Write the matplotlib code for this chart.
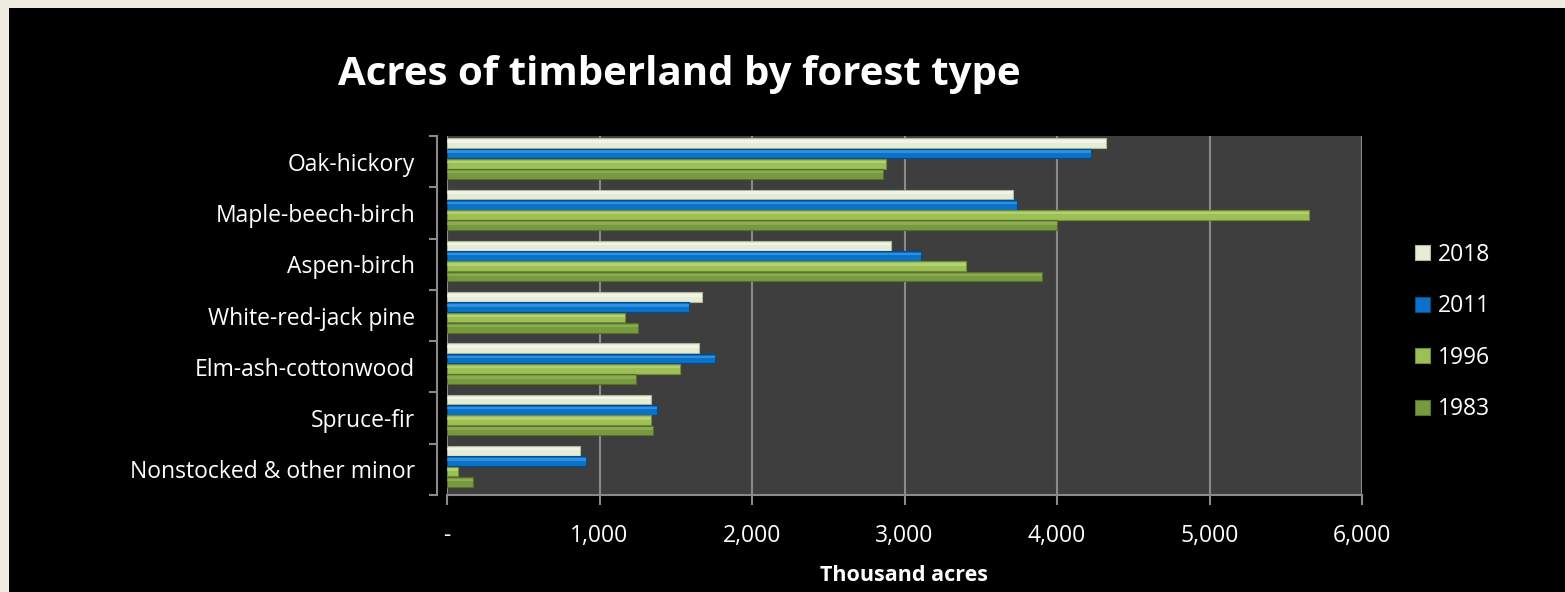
import numpy as np
import matplotlib.pyplot as plt
from matplotlib.patches import Rectangle
from matplotlib.ticker import FuncFormatter

plt.rcParams['font.family'] = ['Open Sans', 'DejaVu Sans']

forest_types = ['Oak-hickory', 'Maple-beech-birch', 'Aspen-birch', 'White-red-jack pine',
                'Elm-ash-cottonwood', 'Spruce-fir', 'Nonstocked & other minor']
years = ['2018', '2011', '1996', '1983']
acres_2018 = [4320, 3710, 2910, 1670, 1650, 1340, 870]
acres_2011 = [4220, 3740, 3110, 1590, 1760, 1380, 910]
acres_1996 = [2880, 5650, 3400, 1170, 1530, 1340, 70]
acres_1983 = [2860, 4000, 3900, 1250, 1240, 1350, 170]
x_ticks = [0, 1000, 2000, 3000, 4000, 5000, 6000]

colors = ['#E6EDD6', '#0A72C8', '#9DBF55', '#789A3E']
edges = ['#AEB89A', '#054A8A', '#6E8C32', '#55702A']
highlights = ['#FAFCF4', '#4AA3EE', '#C4DD8A', '#9CB866']

fig = plt.figure(figsize=(15.65, 5.92), dpi=100, facecolor='#EEEBE0')
# black slide panel inside the cream border
fig.patches.append(Rectangle((9 / 1565, 0), 1, 1 - 8 / 592, transform=fig.transFigure,
                             facecolor='black', edgecolor='none', zorder=-10))

ax = fig.add_axes([447 / 1565, 1 - 495 / 592, 915 / 1565, 359 / 592])
ax.set_facecolor('#3E3E3E')

y = np.arange(len(forest_types))
offsets = [-0.36, -0.16, 0.04, 0.24]
series = [acres_2018, acres_2011, acres_1996, acres_1983]
h = 0.19
for vals, off, c, ec, hc, lab in zip(series, offsets, colors, edges, highlights, years):
    ax.barh(y + off, vals, height=h, color=c, edgecolor=ec, linewidth=0.8,
            label=lab, zorder=3)
    # glossy highlight stripe
    ax.barh(y + off - h * 0.18, vals, height=h * 0.25, color=hc, linewidth=0,
            alpha=0.6, zorder=4)

ax.set_xlim(0, 6000)
ax.set_ylim(len(forest_types) - 0.5, -0.5)
ax.set_xticks(x_ticks)
ax.xaxis.set_major_formatter(FuncFormatter(lambda v, p: '-' if v == 0 else f'{int(v):,}'))
ax.grid(axis='x', color='#8A8A8A', linewidth=1.5, zorder=1)
ax.set_axisbelow(True)

ax.set_yticks(y)
ax.set_yticklabels(forest_types)
ax.set_yticks(np.arange(-0.5, len(forest_types)), minor=True)
ax.tick_params(axis='y', which='major', length=0, pad=16, labelsize=16.5, labelcolor='white')
ax.tick_params(axis='y', which='minor', length=6, width=1.5, color='#8A8A8A')
ax.tick_params(axis='x', length=7, width=1.5, color='#8A8A8A', labelsize=16.5,
               labelcolor='white', pad=14)

for s in ['top', 'right']:
    ax.spines[s].set_visible(False)
ax.spines['left'].set_position(('outward', 7))
for s in ['left', 'bottom']:
    ax.spines[s].set_color('#8A8A8A')
    ax.spines[s].set_linewidth(1.5)

ax.set_xlabel('Thousand acres', color='white', fontsize=15.5, fontweight='bold', labelpad=12)
fig.text(679 / 1565, 1 - 75 / 592, 'Acres of timberland by forest type', color='white',
         fontsize=29, fontweight='bold', ha='center', va='center')

ax.legend(loc='upper left', bbox_to_anchor=(1.035, 0.76), frameon=False, fontsize=16.5,
          labelcolor='white', handlelength=0.65, handleheight=0.65, handletextpad=0.35,
          labelspacing=1.2)

fig.savefig('out.png', dpi=100, facecolor=fig.get_facecolor())
